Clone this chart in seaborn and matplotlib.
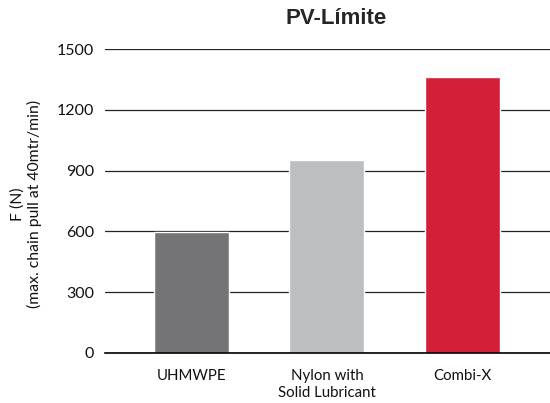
import matplotlib
matplotlib.use("Agg")
import matplotlib.pyplot as plt
import seaborn as sns
import pandas as pd

categories = ["UHMWPE", "Nylon with\nSolid Lubricant", "Combi-X"]
values = [595, 955, 1365]
colors = ["#747476", "#bdbec0", "#d41f38"]
yticks = [0, 300, 600, 900, 1200, 1500]

sns.set_theme(style="white")
plt.rcParams['font.family'] = ['Lato', 'DejaVu Sans']

df = pd.DataFrame({"material": categories, "force": values})

fig = plt.figure(figsize=(5.5, 4.03), dpi=100)
ax = fig.add_axes([105/550, 1 - 352.7/403, 1 - 105/550, (352.7 - 49.3)/403])

sns.barplot(data=df, x="material", y="force", hue="material", palette=colors,
            width=0.553, legend=False, ax=ax, saturation=1)

ax.set_ylim(0, 1500)
ax.set_xlim(-0.636, 2.645)
ax.set_yticks(yticks)
ax.yaxis.grid(True, color="#222222", linewidth=0.9)
ax.set_axisbelow(True)
for s in ["top", "right", "left"]:
    ax.spines[s].set_visible(False)
ax.spines["bottom"].set_color("black")
ax.spines["bottom"].set_linewidth(1.2)
ax.tick_params(axis="y", length=0, pad=8, labelsize=11.5, colors="#111111")
ax.tick_params(axis="x", length=0, pad=12, labelsize=10.8, colors="#111111")
ax.set_xlabel("")
ax.set_ylabel("F (N)\n(max. chain pull at 40mtr/min)", fontsize=11.3, color="#111111",
              linespacing=1.15)
ax.yaxis.set_label_coords(-0.142, 0.49)

fig.text(336/550, 1 - 19/403, "PV-Límite", ha="center", va="center",
         fontsize=16, fontweight="bold", family=["Liberation Sans", "DejaVu Sans"])

fig.savefig("out.png", dpi=100)
